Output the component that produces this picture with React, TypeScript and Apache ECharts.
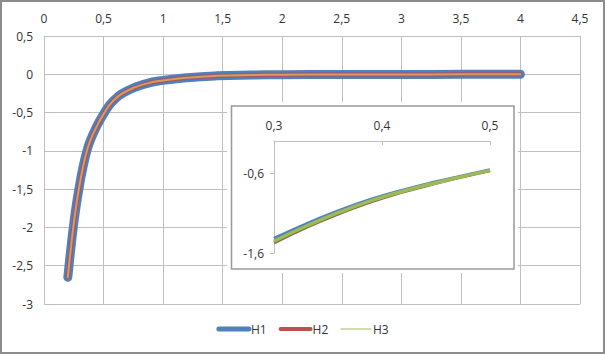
import React, { useEffect, useRef } from "react";
import * as echarts from "echarts";

// Main chart (0..4.5)
const xMain = [0.2, 0.21, 0.225, 0.245, 0.27, 0.295, 0.325, 0.36, 0.39, 0.43, 0.5, 0.58, 0.7, 0.86, 1.0, 1.2, 1.45, 1.75, 2.0, 2.5, 3, 3.5, 4];
const h1Main = [-2.65, -2.5, -2.28, -2.01, -1.72, -1.48, -1.23, -1.0, -0.86, -0.72, -0.52, -0.35, -0.215, -0.122, -0.08, -0.044, -0.02, -0.01, -0.006, -0.003, -0.002, -0.001, 0];
const h2Main = [-2.65, -2.5, -2.28, -2.01, -1.72, -1.48, -1.23, -1.0, -0.86, -0.72, -0.52, -0.35, -0.215, -0.122, -0.08, -0.044, -0.02, -0.01, -0.006, -0.003, -0.002, -0.001, 0];
const h3Main = [-2.65, -2.5, -2.28, -2.01, -1.72, -1.48, -1.23, -1.0, -0.86, -0.72, -0.52, -0.35, -0.215, -0.122, -0.08, -0.044, -0.02, -0.01, -0.006, -0.003, -0.002, -0.001, 0];

// Inset (0.3..0.5)
const xInset = [0.3, 0.33, 0.36, 0.39, 0.42, 0.45, 0.475, 0.5];
const h1Inset = [-1.42, -1.235, -1.07, -0.925, -0.808, -0.706, -0.629, -0.555];
const h2Inset = [-1.47, -1.275, -1.105, -0.952, -0.828, -0.72, -0.638, -0.563];
const h3Inset = [-1.45, -1.26, -1.09, -0.94, -0.82, -0.715, -0.635, -0.56];

const mainXTicks = [0, 0.5, 1, 1.5, 2, 2.5, 3, 3.5, 4, 4.5];
const insetYTicks = [-1.6, -0.6];

const BLUE = "#4F81BD";
const RED = "#C0504D";
const GREEN = "#9BBB59";
const FONT = "'Open Sans', sans-serif";
const TXT = "#333";
const GRID = "#bfbfbf";

const fmt = (v: number) => String(Math.round(v * 100) / 100).replace(".", ",");
const pairs = (xs: number[], ys: number[]) => xs.map((x, i) => [x, ys[i]]);

export default function App() {
  const ref = useRef<HTMLDivElement>(null);
  useEffect(() => {
    document.body.style.margin = "0";
    const chart = echarts.init(ref.current!, null, { renderer: "svg" });
    const label = { color: TXT, fontFamily: FONT, fontSize: 12 };
    const lineCommon = { type: "line", showSymbol: false, symbol: "none", smooth: 0.5 };
    chart.setOption({
      animation: false,
      backgroundColor: "#fff",
      grid: [
        { left: 44, right: 25, top: 36, bottom: 50 },
        { left: 274, right: 115, top: 141, bottom: 101, z: 6 },
      ],
      xAxis: [
        {
          type: "value", gridIndex: 0, position: "top",
          min: mainXTicks[0], max: mainXTicks[mainXTicks.length - 1], interval: 0.5,
          axisLine: { show: false }, axisTick: { show: false },
          splitLine: { lineStyle: { color: GRID, width: 1 } },
          axisLabel: { ...label, margin: 12, formatter: fmt },
        },
        {
          type: "value", gridIndex: 1, position: "top", z: 6,
          min: 0.3, max: 0.5, interval: 0.1,
          axisLine: { show: true, lineStyle: { color: GRID } },
          axisTick: { show: true, inside: true, length: 4, lineStyle: { color: GRID } },
          splitLine: { show: false },
          axisLabel: { ...label, margin: 10, formatter: fmt },
        },
      ],
      yAxis: [
        {
          type: "value", gridIndex: 0,
          min: -3, max: 0.5, interval: 0.5,
          axisLine: { show: false }, axisTick: { show: false },
          splitLine: { lineStyle: { color: GRID, width: 1 } },
          axisLabel: { ...label, margin: 11, formatter: fmt },
        },
        {
          type: "value", gridIndex: 1, z: 6,
          min: -1.6, max: -0.19,
          axisLine: { show: true, lineStyle: { color: GRID } },
          axisTick: { show: true, length: 4, lineStyle: { color: GRID }, customValues: insetYTicks },
          splitLine: { show: false },
          axisLabel: { ...label, margin: 10, formatter: fmt, customValues: insetYTicks },
        },
      ],
      legend: {
        bottom: 14, left: "center",
        itemWidth: 30, itemHeight: 12, itemGap: 12,
        itemStyle: { opacity: 0 },
        textStyle: { color: TXT, fontFamily: FONT, fontSize: 12, padding: [0, 0, 0, -3] },
        data: [
          { name: "H1", lineStyle: { width: 5, color: BLUE, cap: "round" } },
          { name: "H2", lineStyle: { width: 4, color: RED, cap: "round" } },
          { name: "H3", lineStyle: { width: 1.2, color: GREEN } },
        ],
      },
      graphic: [
        {
          type: "rect", z: 5, silent: true,
          shape: { x: 227, y: 102, width: 291, height: 171 },
          style: { fill: "#fff", stroke: null },
        },
        {
          type: "rect", z: 5, silent: true,
          shape: { x: 231.5, y: 106, width: 282.5, height: 163 },
          style: { fill: "#fff", stroke: "#999", lineWidth: 1.5 },
        },
        {
          type: "rect", z: 10, silent: true,
          shape: { x: 1, y: 1, width: 603, height: 352 },
          style: { fill: null, stroke: "#8c8c8c", lineWidth: 2 },
        },
      ],
      series: [
        {
          ...lineCommon, name: "H1", xAxisIndex: 0, yAxisIndex: 0, z: 2,
          data: pairs(xMain, h1Main), lineStyle: { color: BLUE, width: 9, cap: "round", join: "round" },
          itemStyle: { color: BLUE },
        },
        {
          ...lineCommon, name: "H2", xAxisIndex: 0, yAxisIndex: 0, z: 2,
          data: pairs(xMain, h2Main), lineStyle: { color: "#9a5a70", width: 4.5, cap: "round", join: "round" },
          itemStyle: { color: RED },
        },
        {
          ...lineCommon, name: "H3", xAxisIndex: 0, yAxisIndex: 0, z: 2,
          data: pairs(xMain, h3Main), lineStyle: { color: "#d99a5a", width: 2, cap: "round" },
          itemStyle: { color: GREEN },
        },
        {
          ...lineCommon, name: "H1", xAxisIndex: 1, yAxisIndex: 1, z: 7,
          data: pairs(xInset, h1Inset), lineStyle: { color: BLUE, width: 3.5 },
        },
        {
          ...lineCommon, name: "H2", xAxisIndex: 1, yAxisIndex: 1, z: 7,
          data: pairs(xInset, h2Inset), lineStyle: { color: "#8a6a40", width: 3.5 },
        },
        {
          ...lineCommon, name: "H3", xAxisIndex: 1, yAxisIndex: 1, z: 7,
          data: pairs(xInset, h3Inset), lineStyle: { color: GREEN, width: 3.5 },
        },
      ],
    });
    return () => chart.dispose();
  }, []);
  return <div ref={ref} style={{ width: 605, height: 354 }} />;
}
